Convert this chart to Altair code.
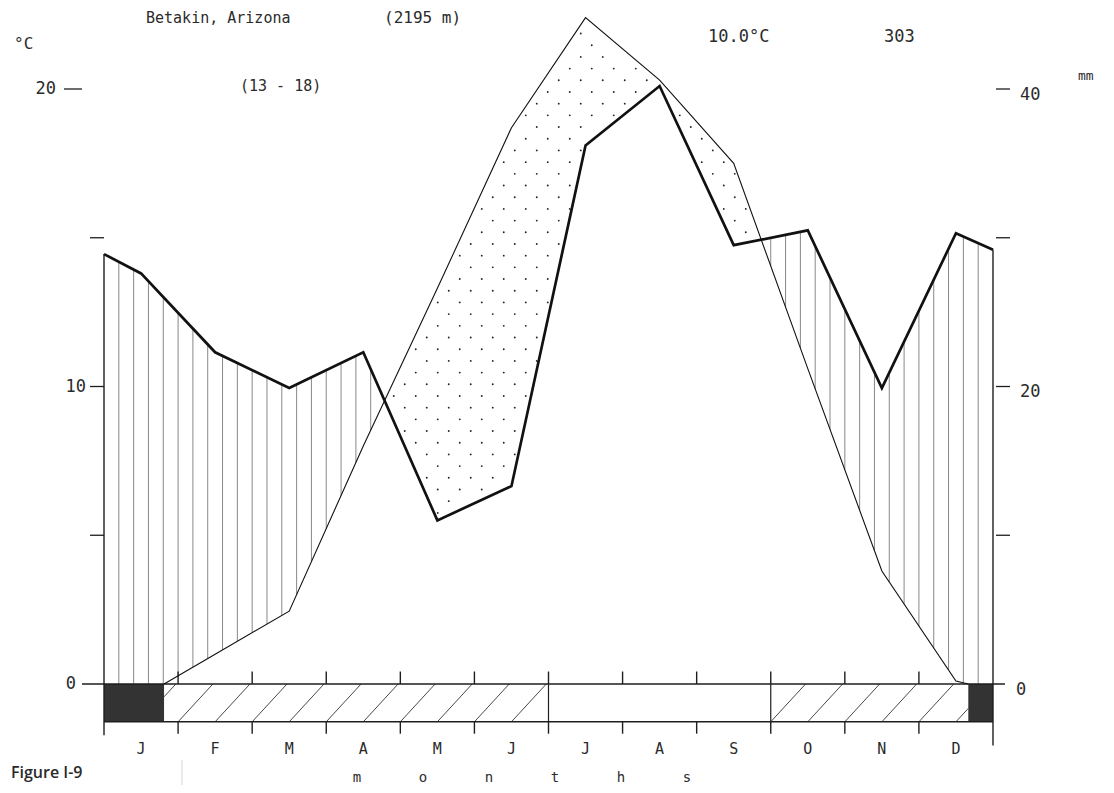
import altair as alt
import numpy as np
import pandas as pd

# ---------------- data ----------------
months = ["J", "F", "M", "A", "M", "J", "J", "A", "S", "O", "N", "D"]
temp_c = [-0.45, 1.0, 2.45, 8.0, 13.3, 18.7, 22.4, 20.3, 17.5, 10.6, 3.8, 0.1]
precip_mm = [27.6, 22.3, 19.9, 22.3, 11.0, 13.3, 36.2, 40.2, 29.5, 30.5, 19.9, 30.3]
precip_edge_mm = [28.9, 29.2]      # curve value at left / right frame edge
temp_edge_c = [-0.2, -0.2]         # curve value at left / right frame edge
frost_month_idx = [0, 1, 2, 3, 4, 5, 9, 10, 11]   # months with absolute minimum below 0
temp_ticks = [0, 5, 10, 15, 20]
temp_tick_labels = ["0", "", "10", "", "20"]
precip_ticks = [0, 10, 20, 30, 40]
precip_tick_labels = ["0", "", "20", "", "40"]
station = "Betakin, Arizona"
elevation = "(2195 m)"
years = "(13 - 18)"
mean_temp = "10.0°C"
annual_precip = "303"
axis_word = "months"
figure_label = "Figure I-9"

# ---------------- geometry ----------------
W, H = 1098, 777
PX_MONTH = 74.083
PX_DEG = 29.75
X0 = -96 / PX_MONTH
X1 = X0 + W / PX_MONTH
Y1 = 676 / PX_DEG
Y0 = Y1 - H / PX_DEG
XS = alt.Scale(domain=[X0, X1], nice=False, zero=False)
YS = alt.Scale(domain=[Y0, Y1], nice=False, zero=False)
BB = -1.27  # bottom of the frost band (°C units)


def dx(px):
    return X0 + (px - 8) / PX_MONTH


def dy(py):
    return Y1 - (py - 8) / PX_DEG


xs = np.array([0.0] + [i + 0.5 for i in range(12)] + [12.0])
P2 = np.array([precip_edge_mm[0]] + precip_mm + [precip_edge_mm[1]]) / 2.0
T = np.array([temp_edge_c[0]] + temp_c + [temp_edge_c[1]])

# temperature polyline clipped at 0
tpts = []
crossings = []
for i in range(len(xs)):
    if T[i] >= 0:
        tpts.append((xs[i], T[i]))
    if i < len(xs) - 1 and (T[i] < 0) != (T[i + 1] < 0):
        xc = xs[i] + (0 - T[i]) / (T[i + 1] - T[i]) * (xs[i + 1] - xs[i])
        tpts.append((xc, 0.0))
        crossings.append(xc)
cl, cr = crossings[0], crossings[-1]
temp_df = pd.DataFrame(tpts, columns=["x", "y"])
precip_df = pd.DataFrame({"x": xs, "y": P2})


def Ti(x):
    return max(float(np.interp(x, xs, T)), 0.0)


def Pi(x):
    return float(np.interp(x, xs, P2))


# vertical hatching of the humid season
hatch = []
for x in np.arange(0.2, 11.9, 0.2):
    top, bot = Pi(x), Ti(x)
    if top > bot + 0.05:
        hatch.append({"x": x, "y": bot, "y2": top})
hatch_df = pd.DataFrame(hatch)

# dotted arid season
dots = []
j = 0
y = 0.25
while y < 23:
    off = 0.1485 if j % 2 else 0.0
    x = off + 0.05
    while x < 12:
        if Pi(x) + 0.22 < y < float(np.interp(x, xs, T)) - 0.22:
            dots.append({"x": x, "y": y})
        x += 0.297
    j += 1
    y += 0.393
dots_df = pd.DataFrame(dots)

# frost band
frost_df = pd.DataFrame({"x": [0.0, cr], "x2": [cl, 12.0], "y": [BB, BB], "y2": [0.0, 0.0]})
flags = [i in frost_month_idx for i in range(12)]
sections = []
i = 0
while i < 12:
    if flags[i]:
        k = i
        while k < 12 and flags[k]:
            k += 1
        sections.append([float(i), float(k)])
        i = k
    else:
        i += 1
for s in sections:
    s[0] = max(s[0], cl)
    s[1] = min(s[1], cr)
diag = []
span = 0.47
for b in np.arange(0.0, 12.0, 0.5):
    for s, e in sections:
        tlo = max(0.0, (s - b) / span)
        thi = min(1.0, (e - b) / span)
        if thi > tlo:
            diag.append({"x": b + span * tlo, "y": BB - BB * tlo,
                         "x2": b + span * thi, "y2": BB - BB * thi})
diag_df = pd.DataFrame(diag)

# structural lines (frame, band, ticks)
lines = []
lines.append({"x": dx(82), "x2": dx(1005), "y": 0.0, "y2": 0.0, "w": 1.7})
lines.append({"x": 0.0, "x2": 12.0, "y": BB, "y2": BB, "w": 1.5})
lines.append({"x": 0.0, "x2": 0.0, "y": BB - 0.45, "y2": P2[0], "w": 1.4})
lines.append({"x": 12.0, "x2": 12.0, "y": BB - 0.8, "y2": P2[-1], "w": 1.4})
for m in range(1, 12):
    lines.append({"x": m, "x2": m, "y": 0.0, "y2": 0.42, "w": 1.4})
    lines.append({"x": m, "x2": m, "y": BB, "y2": BB - 0.4, "w": 1.4})
changes = [m for m in range(1, 12) if flags[m] != flags[m - 1]]
for m in changes:
    lines.append({"x": m, "x2": m, "y": BB, "y2": 0.0, "w": 1.2})
# left temperature ticks
for v in temp_ticks[1:]:
    if v == 20:
        lines.append({"x": dx(64), "x2": dx(82), "y": v, "y2": v, "w": 1.3})
    else:
        lines.append({"x": dx(90), "x2": 0.0, "y": v, "y2": v, "w": 1.3})
# right precipitation ticks
for v in precip_ticks[1:]:
    lines.append({"x": 12.0 + 0.04, "x2": dx(1010), "y": v / 2, "y2": v / 2, "w": 1.3})
lines_df = pd.DataFrame(lines)

faint_df = pd.DataFrame({"x": [dx(182)], "x2": [dx(182)], "y": [dy(760)], "y2": [dy(792)]})

# text tables
left_lab = pd.DataFrame({"t": temp_tick_labels, "y": temp_ticks})
left_lab = left_lab[left_lab.t != ""].copy()
left_lab["x"] = [dx(76), dx(86), dx(56)]
right_lab = pd.DataFrame({"t": precip_tick_labels, "y": [v / 2 for v in precip_ticks]})
right_lab = right_lab[right_lab.t != ""].copy()
right_lab["x"] = [dx(1016), dx(1020), dx(1020)]
right_lab["y"] = right_lab["y"] - 0.2

month_df = pd.DataFrame({"t": months, "x": [i + 0.5 for i in range(12)], "y": dy(749)})
word_df = pd.DataFrame({"t": list(axis_word), "x": [dx(357 + 66 * i) for i in range(len(axis_word))],
                        "y": dy(778)})
head_df = pd.DataFrame({
    "t": [station, elevation, years, mean_temp, annual_precip, "°C", "mm"],
    "x": [dx(146), dx(384), dx(240), dx(708), dx(884), dx(14), dx(1078)],
    "y": [dy(18), dy(18), dy(86), dy(37), dy(37), dy(44), dy(76)],
    "fs": [15, 16, 15, 17, 17, 16, 13],
})
fig_df = pd.DataFrame({"t": [figure_label], "x": [dx(11)], "y": [dy(773)]})

FONT = "DejaVu Sans Mono"
INK = "#1e1e1e"

X = lambda f="x": alt.X(f + ":Q", scale=XS, axis=None)
Y = lambda f="y": alt.Y(f + ":Q", scale=YS, axis=None)

hatch_layer = alt.Chart(hatch_df).mark_rule(stroke="#6a6a6a", strokeWidth=0.8).encode(
    x=X(), y=Y(), y2=alt.Y2("y2:Q"))
dots_layer = alt.Chart(dots_df).mark_circle(size=3.5, color="#222222", opacity=1).encode(x=X(), y=Y())
frost_layer = alt.Chart(frost_df).mark_rect(fill="#333333").encode(
    x=X(), x2=alt.X2("x2:Q"), y=Y(), y2=alt.Y2("y2:Q"))
diag_layer = alt.Chart(diag_df).mark_rule(stroke="#333333", strokeWidth=0.9).encode(
    x=X(), x2=alt.X2("x2:Q"), y=Y(), y2=alt.Y2("y2:Q"))
lines_layer = alt.Chart(lines_df).mark_rule(stroke=INK).encode(
    x=X(), x2=alt.X2("x2:Q"), y=Y(), y2=alt.Y2("y2:Q"),
    strokeWidth=alt.StrokeWidth("w:Q", scale=None))
faint_layer = alt.Chart(faint_df).mark_rule(stroke="#d4d4d4", strokeWidth=1).encode(
    x=X(), x2=alt.X2("x2:Q"), y=Y(), y2=alt.Y2("y2:Q"))
precip_layer = alt.Chart(precip_df).mark_line(color="#111111", strokeWidth=2.7,
                                              strokeJoin="miter").encode(
    x=X(), y=Y(), order="x:Q")
temp_layer = alt.Chart(temp_df).mark_line(color="#111111", strokeWidth=1.1).encode(
    x=X(), y=Y(), order="x:Q")

txt = dict(font=FONT, color="#2b2b2b", baseline="middle")
left_text = alt.Chart(left_lab).mark_text(align="right", fontSize=17, **txt).encode(
    x=X(), y=Y(), text="t:N")
right_text = alt.Chart(right_lab).mark_text(align="left", fontSize=17, **txt).encode(
    x=X(), y=Y(), text="t:N")
month_text = alt.Chart(month_df).mark_text(align="center", fontSize=15, **txt).encode(
    x=X(), y=Y(), text="t:N")
word_text = alt.Chart(word_df).mark_text(align="center", fontSize=14, **txt).encode(
    x=X(), y=Y(), text="t:N")
head_text = alt.Chart(head_df).mark_text(align="left", **txt).encode(
    x=X(), y=Y(), text="t:N", size=alt.Size("fs:Q", scale=None))
fig_text = alt.Chart(fig_df).mark_text(align="left", font="Open Sans", fontSize=16,
                                       fontWeight=600, color="#2a2a2a",
                                       baseline="middle").encode(
    x=X(), y=Y(), text="t:N")

chart = alt.layer(
    hatch_layer, dots_layer, frost_layer, diag_layer, faint_layer, lines_layer,
    temp_layer, precip_layer,
    left_text, right_text, month_text, word_text, head_text, fig_text,
).properties(
    width=W, height=H, padding=0, autosize=alt.AutoSizeParams(type="none"),
    background="white",
).configure_view(stroke=None)

chart.save("out.html", embed_options={"renderer": "svg", "actions": False})
